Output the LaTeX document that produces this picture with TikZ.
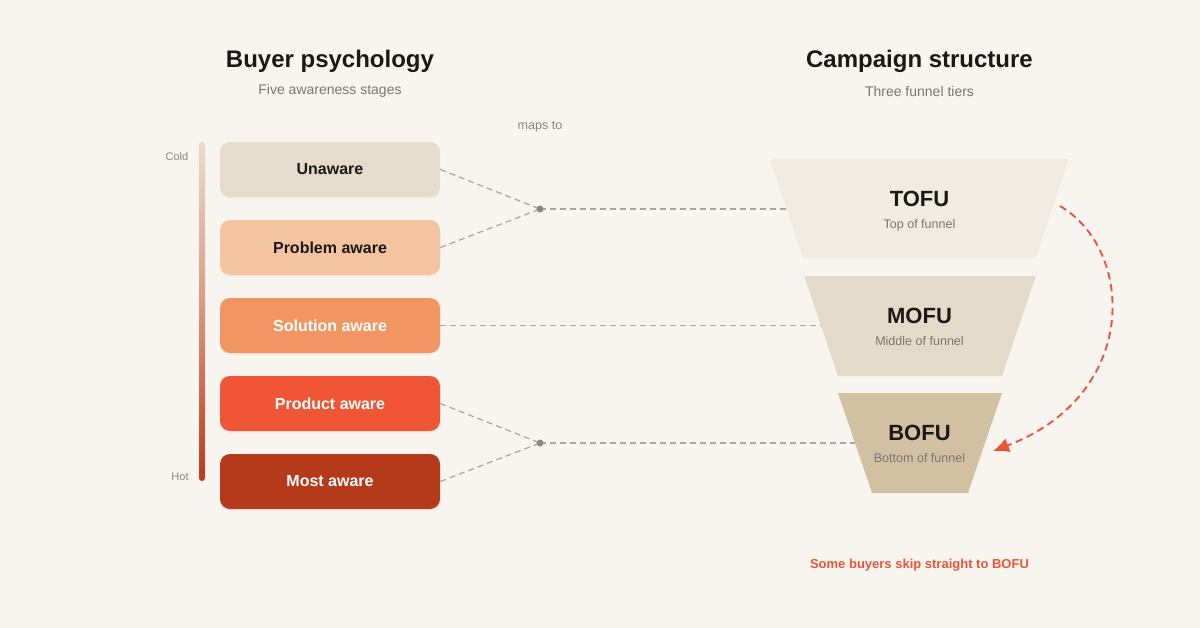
\documentclass[tikz,border=0pt]{standalone}
\usepackage{fontspec}
\setmainfont{Liberation Sans}
\usetikzlibrary{arrows.meta,shadows}
\definecolor{bg}{HTML}{F8F5F0}
\definecolor{ink}{HTML}{1C1816}
\definecolor{subgray}{HTML}{7A7570}
\definecolor{lightgray}{HTML}{8A8580}
\definecolor{conngray}{HTML}{A8A4A0}
\definecolor{dotgray}{HTML}{8C8884}
\definecolor{cUnaware}{HTML}{E5DCCB}
\definecolor{cProblem}{HTML}{F4C4A0}
\definecolor{cSolution}{HTML}{F19663}
\definecolor{cProduct}{HTML}{F05535}
\definecolor{cMost}{HTML}{B5391B}
\definecolor{cTofu}{HTML}{F1ECE1}
\definecolor{cMofu}{HTML}{E4DACA}
\definecolor{cBofu}{HTML}{D2C0A2}
\definecolor{skipred}{HTML}{E8553A}
\definecolor{barTop}{HTML}{EADCCB}
\definecolor{barMid}{HTML}{D8977B}
\definecolor{barBot}{HTML}{B83A1C}
\begin{document}
\begin{tikzpicture}[x=0.75pt,y=-0.75pt,
  stage/.style={rounded corners=7.5pt, minimum width=165pt, minimum height=41.25pt,
    inner sep=0pt, font=\fontsize{12}{14}\selectfont\bfseries,
    drop shadow={shadow xshift=0pt, shadow yshift=-1.5pt, opacity=0.06}},
  darktext/.style={text=ink},
  lighttext/.style={text=white},
  title/.style={font=\fontsize{18}{21}\selectfont\bfseries, text=ink},
  subtitle/.style={font=\fontsize{10.5}{12}\selectfont, text=subgray},
  small/.style={font=\fontsize{8.25}{10}\selectfont, text=lightgray},
  tier/.style={font=\fontsize{16.5}{19}\selectfont\bfseries, text=ink},
  tiersub/.style={font=\fontsize{9.4}{11}\selectfont, text=subgray},
  conn/.style={draw=conngray, line width=0.9pt, dash pattern=on 4.5pt off 3pt},
  dotnode/.style={circle, fill=dotgray, minimum size=5pt, inner sep=0pt},
  skiparrow/.style={draw=skipred, line width=1.4pt, dash pattern=on 5.5pt off 3.5pt,
    -{Latex[length=12pt,width=11pt]}}
]
\fill[bg] (0,0) rectangle (1200,628);
\useasboundingbox (0,0) rectangle (1200,628);

% titles
\node[title] (t1) at (330,61) {Buyer psychology};
\node[subtitle] (st1) at (330,91) {Five awareness stages};
\node[title] (t2) at (919.5,61) {Campaign structure};
\node[subtitle] (st2) at (919.5,91) {Three funnel tiers};
\node[small, font=\fontsize{9.4}{11}\selectfont] (maps) at (540,127) {maps to};

% gradient bar
\shade[top color=barTop, bottom color=barBot, middle color=barMid, rounded corners=2.2pt]
  (199,142) rectangle (205,481);
\node[small] (cold) at (177,157) {Cold};
\node[small] (hot) at (180,477) {Hot};

% stages
\node[stage, fill=cUnaware, darktext] (s1) at (330,169.5) {Unaware};
\node[stage, fill=cProblem, darktext] (s2) at (330,247.5) {Problem aware};
\node[stage, fill=cSolution, lighttext] (s3) at (330,325.5) {Solution aware};
\node[stage, fill=cProduct, lighttext] (s4) at (330,403.5) {Product aware};
\node[stage, fill=cMost, lighttext] (s5) at (330,481.5) {Most aware};

% funnel
\fill[cTofu] (770,159) -- (1069,159) -- (1036,258) -- (803,258) -- cycle;
\fill[cMofu] (804,276) -- (1036,276) -- (1002,376) -- (838,376) -- cycle;
\fill[cBofu] (838,393) -- (1002,393) -- (968,493) -- (872,493) -- cycle;
\node[tier] (tofu) at (919.5,199) {TOFU};
\node[tiersub] (tofus) at (919.5,225) {Top of funnel};
\node[tier] (mofu) at (919.5,316) {MOFU};
\node[tiersub] (mofus) at (919.5,341) {Middle of funnel};
\node[tier] (bofu) at (919.5,433) {BOFU};
\node[tiersub] (bofus) at (919.5,458) {Bottom of funnel};

\coordinate (tofuL) at (788,209);
\coordinate (mofuL) at (821,325.5);
\coordinate (bofuL) at (855,443);

% connectors
\node[dotnode] (d1) at (540,209) {};
\node[dotnode] (d2) at (540,443) {};
\draw[conn] (s1.east) -- (d1.center);
\draw[conn] (s2.east) -- (d1.center);
\draw[conn] (d1.center) -- (tofuL);
\draw[conn] (s3.east) -- (mofuL);
\draw[conn] (s4.east) -- (d2.center);
\draw[conn] (s5.east) -- (d2.center);
\draw[conn] (d2.center) -- (bofuL);
\node[dotnode] at (d1) {};
\node[dotnode] at (d2) {};

% skip arrow
\coordinate (arrS) at (1060,206);
\coordinate (arrE) at (993,451);
\draw[skiparrow] (arrS) .. controls (1135,250) and (1140,395) .. (arrE);
\node[font=\fontsize{9.75}{12}\selectfont\bfseries, text=skipred] (note) at (919.5,565) {Some buyers skip straight to BOFU};
\end{tikzpicture}
\end{document}
